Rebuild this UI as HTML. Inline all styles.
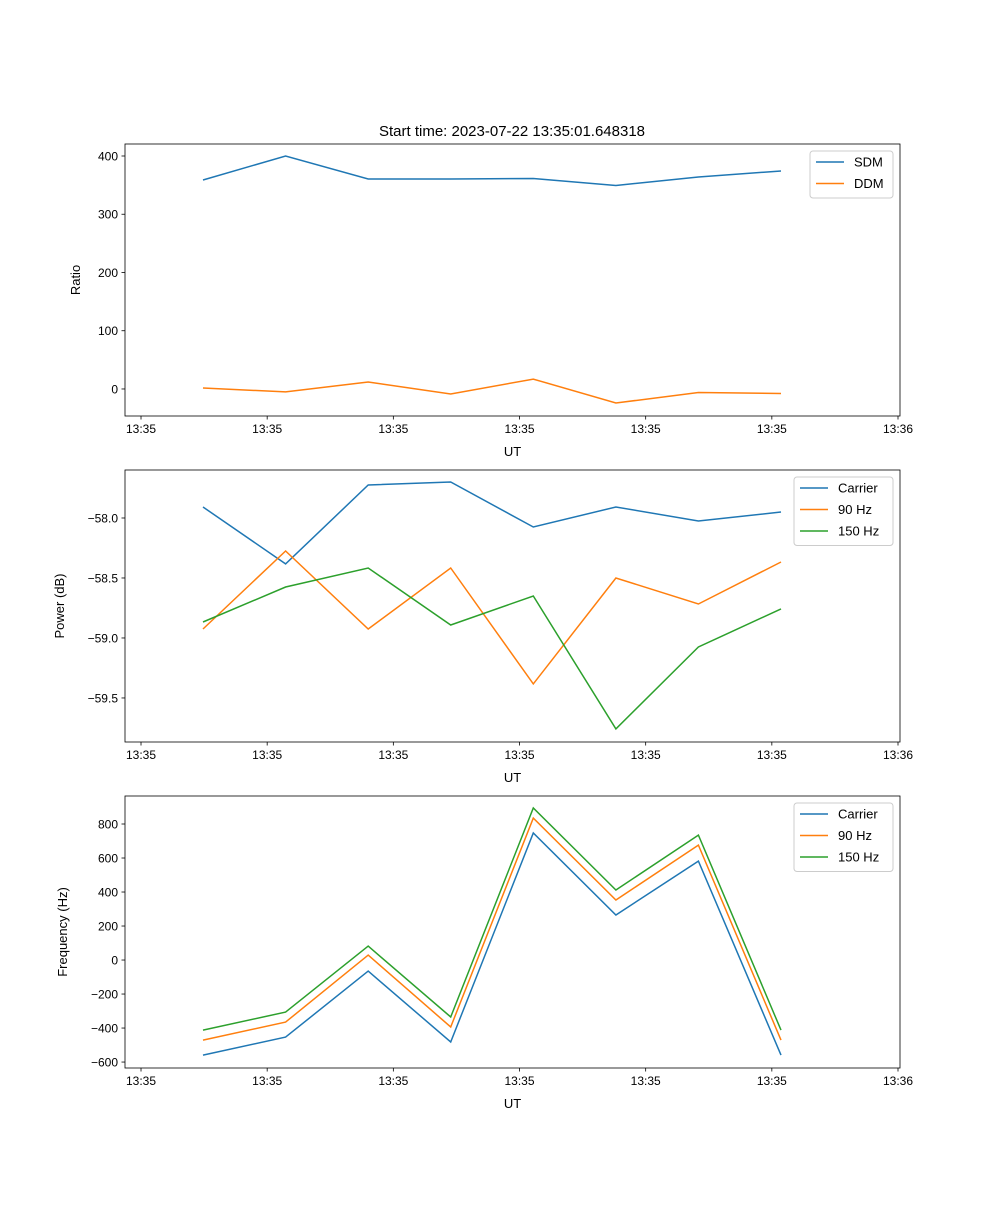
<!DOCTYPE html>
<html><head><meta charset="utf-8"><style>
body{margin:0;background:#fff}
svg{font-family:"Liberation Sans","DejaVu Sans",sans-serif}
</style></head><body>
<svg id="fig" width="1000" height="1200" viewBox="0 0 1000 1200" xmlns="http://www.w3.org/2000/svg"></svg>
<script>
const xIndex = [0,1,2,3,4,5,6,7];
const xTickLabels = ["13:35","13:35","13:35","13:35","13:35","13:35","13:36"];
const sdm = [358.8,400,360.5,360.5,361.4,349.4,364,374.2];
const ddm = [1.7,-5,12,-8.6,17,-24,-6,-7.7];
const ratioTicks = [0,100,200,300,400];
const powCarrier = [-57.908,-58.383,-57.725,-57.70,-58.075,-57.908,-58.025,-57.95];
const pow90 = [-58.925,-58.275,-58.925,-58.417,-59.383,-58.5,-58.717,-58.367];
const pow150 = [-58.867,-58.575,-58.417,-58.892,-58.65,-59.758,-59.075,-58.758];
const powTicks = [-58.0,-58.5,-59.0,-59.5];
const powTickLabels = ["\u221258.0","\u221258.5","\u221259.0","\u221259.5"];
const freqCarrier = [-559,-453,-65,-482,747,265,582,-559];
const freq90 = [-471,-365,29,-394,835,353,676,-471];
const freq150 = [-412,-306,82,-335,894,412,735,-412];
const freqTicks = [-600,-400,-200,0,200,400,600,800];

const NS="http://www.w3.org/2000/svg";
const svg=document.getElementById('fig');
function el(tag,attrs,parent){const e=document.createElementNS(NS,tag);for(const k in attrs)e.setAttribute(k,attrs[k]);(parent||svg).appendChild(e);return e;}
const X0=125,X1=900;
const xDom=[-0.9449,8.4412];
function xs(v){return X0+(v-xDom[0])/(xDom[1]-xDom[0])*(X1-X0);}
const tickStart=-0.751, tickStep=1.528;
const C={b:'#1f77b4',o:'#ff7f0e',g:'#2ca02c'};

function panel(name,top,yDom,yTicks,yLabels,ylabel,series,legend){
  const bot=top+272;
  const g=el('g',{},svg);
  
  
  const ys=v=>bot-(v-yDom[0])/(yDom[1]-yDom[0])*272;
  series.forEach(s=>{
    const p=el('polyline',{points:s.data.map((v,i)=>xs(xIndex[i]).toFixed(1)+','+ys(v).toFixed(1)).join(' '),fill:'none',stroke:s.color,'stroke-width':1.5},g);
    
    
  });
  const fr=el('rect',{x:X0,y:top,width:X1-X0,height:272,fill:'none',stroke:'#000','stroke-width':0.8},g);
  
  
  for(let k=0;k<7;k++){
    const x=xs(tickStart+k*tickStep);
    el('line',{x1:x,x2:x,y1:bot,y2:bot+3.5,stroke:'#000','stroke-width':0.8},g);
    const t=el('text',{x:x,y:bot+17,'font-size':12,'text-anchor':'middle'},g);t.textContent=xTickLabels[k];
    
    
  }
  const xl=el('text',{x:(X0+X1)/2,y:bot+40,'font-size':13,'text-anchor':'middle'},g);xl.textContent='UT';
  
  
  yTicks.forEach((v,i)=>{
    const y=ys(v);
    el('line',{x1:X0-3.5,x2:X0,y1:y,y2:y,stroke:'#000','stroke-width':0.8},g);
    const t=el('text',{x:X0-7,y:y+4.5,'font-size':12,'text-anchor':'end'},g);t.textContent=yLabels[i];
    
    
  });
  const yl=el('text',{x:0,y:0,'font-size':13,'text-anchor':'middle',transform:`translate(${legend.ylx},${top+136}) rotate(-90)`},g);yl.textContent=ylabel;
  
  
  const lg=el('g',{},g);
  
  
  const h=series.length*21.5+4;
  el('rect',{x:legend.x,y:top+7,width:893-legend.x,height:h,rx:3,fill:'#fff',stroke:'#ccc','stroke-width':1},lg);
  series.forEach((s,i)=>{
    const y=top+18+i*21.5;
    el('line',{x1:legend.x+6,x2:legend.x+34,y1:y,y2:y,stroke:s.color,'stroke-width':1.5},lg);
    const t=el('text',{x:legend.x+44,y:y+4.5,'font-size':13},lg);t.textContent=s.label;
    
    
  });
}
const title=el('text',{x:512,y:136,'font-size':15,'text-anchor':'middle'});
title.textContent='Start time: 2023-07-22 13:35:01.648318';



panel('ratio-panel',144,[-46.4,420.6],ratioTicks,ratioTicks.map(String),'Ratio',
 [{name:'sdm',label:'SDM',data:sdm,color:C.b},{name:'ddm',label:'DDM',data:ddm,color:C.o}],{x:810,ylx:80});
panel('power-panel',470,[-59.867,-57.6],powTicks,powTickLabels,'Power (dB)',
 [{name:'carrier',label:'Carrier',data:powCarrier,color:C.b},{name:'90hz',label:'90 Hz',data:pow90,color:C.o},{name:'150hz',label:'150 Hz',data:pow150,color:C.g}],{x:794,ylx:64});
panel('frequency-panel',796,[-635,964.7],freqTicks,freqTicks.map(v=>v<0?'\u2212'+(-v):String(v)),'Frequency (Hz)',
 [{name:'carrier',label:'Carrier',data:freqCarrier,color:C.b},{name:'90hz',label:'90 Hz',data:freq90,color:C.o},{name:'150hz',label:'150 Hz',data:freq150,color:C.g}],{x:794,ylx:67});
</script>
</body></html>
